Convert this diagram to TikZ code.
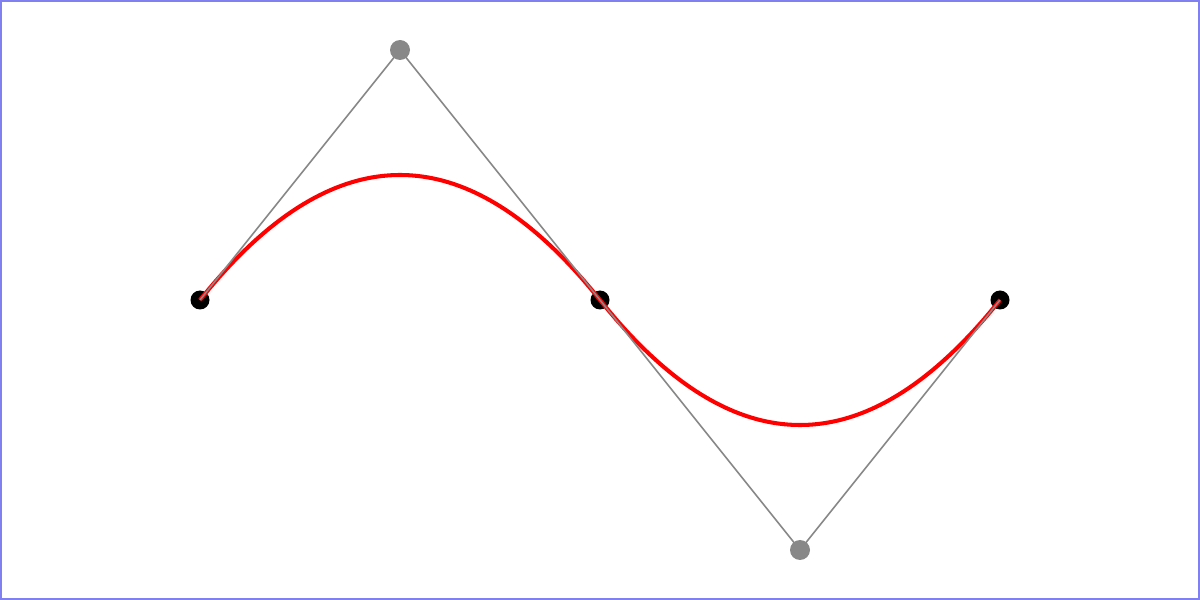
\documentclass[tikz,border=0pt]{standalone}
\usetikzlibrary{calc}
\definecolor{framec}{RGB}{128,128,240}
\definecolor{ctrlc}{RGB}{136,136,136}
\begin{document}
\begin{tikzpicture}[every node/.style={circle,inner sep=0pt,minimum size=.19cm}]
  \useasboundingbox (0,0) rectangle (12,6);
  \draw [framec, line width=.35pt] (.01,.01) rectangle (11.99,5.99);
    \node [fill=black] (a) at (2,3) {};
  \node [fill=ctrlc,minimum size=.2cm] (b) at (4,5.5) {};
  \node [fill=black] (c) at (6,3) {};
  \node [fill=ctrlc,minimum size=.2cm] (d) at (8,.5) {};
  \node [fill=black] (e) at (10,3) {};
    \draw [red, line width=1.15pt] (a.center)
      .. controls ($(a.center)!2/3!(b.center)$) and ($(c.center)!2/3!(b.center)$) .. (c.center)
      .. controls ($(c.center)!2/3!(d.center)$) and ($(e.center)!2/3!(d.center)$) .. (e.center);
    \draw [ctrlc, line width=.45pt] (a.center) -- (b.center);
  \draw [ctrlc, line width=.45pt] (b.center) -- (c.center);
  \draw [ctrlc, line width=.45pt] (c.center) -- (d.center);
  \draw [ctrlc, line width=.45pt] (d.center) -- (e.center);
\end{tikzpicture}
\end{document}
